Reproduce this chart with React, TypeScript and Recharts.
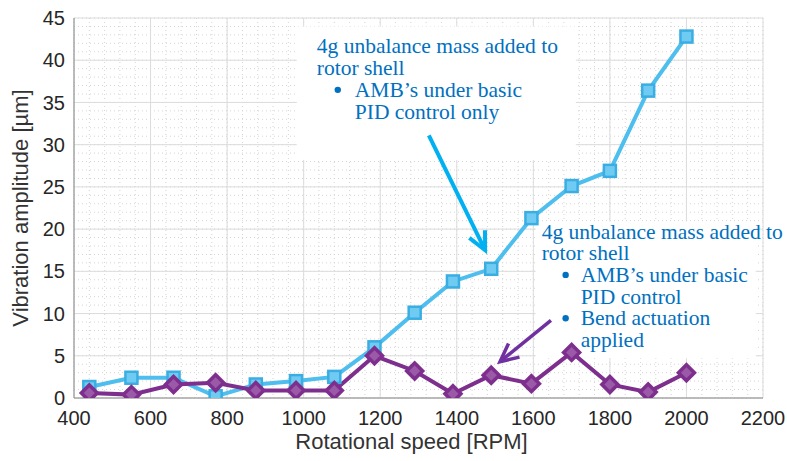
import { LineChart, Line, XAxis, YAxis, CartesianGrid, ReferenceArea, ReferenceLine } from 'recharts'

const rpm = [440, 550, 660, 770, 875, 980, 1080, 1185, 1290, 1390, 1490, 1595, 1700, 1800, 1900, 2000]
const pidOnly = [1.3, 2.4, 2.4, 0.2, 1.6, 2.0, 2.5, 6.0, 10.1, 13.8, 15.3, 21.3, 25.1, 26.9, 36.4, 42.8]
const withBend = [0.6, 0.4, 1.6, 1.8, 0.9, 0.9, 0.9, 5.0, 3.2, 0.5, 2.7, 1.7, 5.4, 1.6, 0.7, 3.0]

const xTicks = [400, 600, 800, 1000, 1200, 1400, 1600, 1800, 2000, 2200]
const yTicks = [0, 5, 10, 15, 20, 25, 30, 35, 40, 45]
const X_DOMAIN = [400, 2200]
const Y_DOMAIN = [0, 45]

// minor grid: 5 subdivisions per major step
const minorX: number[] = []
for (let v = 400; v <= 2200; v += 40) minorX.push(v)
const minorY: number[] = []
for (let v = 0; v <= 45; v += 1) minorY.push(v)

const noteOne = ['4g unbalance mass added to', 'rotor shell']
const noteOneBullets = ["AMB\u2019s under basic", 'PID control only']
const noteTwo = ['4g unbalance mass added to', 'rotor shell']
const noteTwoBullets = ["AMB\u2019s under basic", 'PID control', 'Bend actuation', 'applied']

const data = rpm.map((r, i) => ({ rpm: r, pidOnly: pidOnly[i], withBend: withBend[i] }))

const CYAN = '#4DBEEE'
const PURPLE = '#7E2F8E'
const NOTE_BLUE = '#0070C0'
const SERIF = "'Liberation Serif', 'Times New Roman', serif"

// grid positions mapped through the plot area the chart reports
const gridX = (values: number[]) => ({ offset }: any) =>
  values.map(v => offset.left + ((v - X_DOMAIN[0]) / (X_DOMAIN[1] - X_DOMAIN[0])) * offset.width)
const gridY = (values: number[]) => ({ offset }: any) =>
  values.map(v => offset.top + offset.height - ((v - Y_DOMAIN[0]) / (Y_DOMAIN[1] - Y_DOMAIN[0])) * offset.height)

const SquareDot = (props: any) => {
  const { cx, cy } = props
  if (cx == null || cy == null) return null
  return <rect x={cx - 6} y={cy - 6} width={12} height={12} fill="#6fcbf2" stroke="#3aaee2" strokeWidth={2.5} />
}

const DiamondDot = (props: any) => {
  const { cx, cy } = props
  if (cx == null || cy == null) return null
  const r = 8
  return (
    <path
      d={`M${cx},${cy - r} L${cx + r},${cy} L${cx},${cy + r} L${cx - r},${cy} Z`}
      fill="#9a5aa8"
      stroke={PURPLE}
      strokeWidth={3.5}
    />
  )
}

// white note box with blue serif text; first lines plain, the rest with bullet marks
const noteShape = (plain: string[], bullets: string[], textDx: number, bulletDx: number, bulletTextDx: number, firstDy: number) =>
  (props: any) => {
    const { x, y, width, height } = props
    const lh = 21.7
    const fs = 21.5
    const st = { fontFamily: SERIF, fontSize: fs, fill: NOTE_BLUE }
    return (
      <g>
        <rect x={x} y={y} width={width} height={height} fill="#ffffff" />
        {plain.map((t, i) => (
          <text key={'p' + i} x={x + textDx} y={y + firstDy + i * lh} style={st}>
            {t}
          </text>
        ))}
        {bullets.map((t, i) => {
          const ty = y + firstDy + (plain.length + i) * lh
          const isStart = i === 0 || (bullets.length > 2 && i === 2)
          return (
            <g key={'b' + i}>
              {isStart && <circle cx={x + bulletDx} cy={ty - 7} r={3.2} fill={NOTE_BLUE} />}
              <text x={x + bulletTextDx} y={ty} style={st}>
                {t}
              </text>
            </g>
          )
        })}
      </g>
    )
  }

const arrowShape = (color: string, width: number) => (props: any) => {
  const { x1, y1, x2, y2 } = props
  if ([x1, y1, x2, y2].some(v => v == null || isNaN(v))) return null
  const ang = Math.atan2(y2 - y1, x2 - x1)
  const len = 20
  const spread = 0.45
  const ax = x2 - len * Math.cos(ang - spread)
  const ay = y2 - len * Math.sin(ang - spread)
  const bx = x2 - len * Math.cos(ang + spread)
  const by = y2 - len * Math.sin(ang + spread)
  return (
    <g>
      <line x1={x1} y1={y1} x2={x2} y2={y2} stroke={color} strokeWidth={width} />
      <polyline points={`${ax},${ay} ${x2},${y2} ${bx},${by}`} fill="none" stroke={color} strokeWidth={width} strokeLinejoin="miter" />
    </g>
  )
}

const tickStyle = { fontFamily: "'Liberation Sans', Arial, sans-serif", fontSize: 20, fill: '#262626' }
const labelStyle = { fontFamily: "'Liberation Sans', Arial, sans-serif", fontSize: 22, fill: '#333333' }

export default function App() {
  return (
    <div style={{ position: 'absolute', left: 0, top: 0, width: 787, height: 461, background: '#ffffff' }}>
      <LineChart width={787} height={461} data={data} margin={{ top: 18, right: 24, left: 0, bottom: 0 }}>
        <CartesianGrid
          verticalCoordinatesGenerator={gridX(minorX)}
          horizontalCoordinatesGenerator={gridY(minorY)}
          stroke="#d4d4d4"
          strokeDasharray="1 3"
        />
        <CartesianGrid
          verticalCoordinatesGenerator={gridX(xTicks)}
          horizontalCoordinatesGenerator={gridY(yTicks)}
          stroke="#dcdcdc"
        />
        <XAxis
          type="number"
          dataKey="rpm"
          domain={X_DOMAIN}
          ticks={xTicks}
          allowDataOverflow
          stroke="#8a8a8a"
          tickLine={false}
          tickSize={0}
          tickMargin={13}
          height={63}
          tick={tickStyle}
          label={{ value: 'Rotational speed [RPM]', position: 'center', dx: -7, dy: 12, style: labelStyle }}
        />
        <YAxis
          type="number"
          domain={Y_DOMAIN}
          ticks={yTicks}
          allowDataOverflow
          stroke="#8a8a8a"
          tickLine={false}
          tickSize={0}
          tickMargin={9}
          width={74}
          tick={tickStyle}
          label={{ value: 'Vibration amplitude [\u00b5m]', angle: -90, position: 'center', dx: -17, style: { ...labelStyle, textAnchor: 'middle' } }}
        />
        <ReferenceArea
          x1={982}
          x2={1711}
          y1={28.2}
          y2={44.0}
          ifOverflow="visible"
          shape={noteShape(noteOne, noteOneBullets, 20, 41, 58, 27)}
        />
        <ReferenceArea
          x1={1606}
          x2={2181}
          y1={4.7}
          y2={20.9}
          ifOverflow="visible"
          shape={noteShape(noteTwo, noteTwoBullets, 6, 30, 45, 17)}
        />
        <Line
          type="linear"
          dataKey="pidOnly"
          stroke={CYAN}
          strokeWidth={4}
          dot={<SquareDot />}
          activeDot={false}
          isAnimationActive={false}
        />
        <Line
          type="linear"
          dataKey="withBend"
          stroke={PURPLE}
          strokeWidth={4}
          dot={<DiamondDot />}
          activeDot={false}
          isAnimationActive={false}
        />
        <ReferenceLine
          segment={[{ x: 1327, y: 31.1 }, { x: 1474, y: 17.5 }]}
          ifOverflow="visible"
          shape={arrowShape('#00B0F0', 4)}
        />
        <ReferenceLine
          segment={[{ x: 1646, y: 9.2 }, { x: 1513, y: 4.3 }]}
          ifOverflow="visible"
          shape={arrowShape('#7030A0', 3.5)}
        />
      </LineChart>
    </div>
  )
}
